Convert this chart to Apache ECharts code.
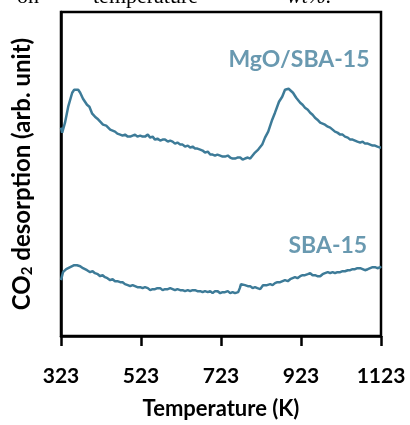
<!DOCTYPE html>
<html>
<head>
<meta charset="utf-8">
<script src="https://cdn.jsdelivr.net/npm/echarts@6/dist/echarts.min.js"></script>
<style>
html, body { margin: 0; padding: 0; background: #fff; }
#main { width: 410px; height: 425px; }
</style>
</head>
<body>
<div id="main"></div>
<script>
// temperature (K) and CO2 signal (arb.)
var mgoTemp = [323, 326, 333, 341, 351, 356, 361, 366, 371, 378, 388, 394, 401, 408, 414, 421, 428, 436, 446, 452, 458, 464, 471, 477, 483, 490, 496, 502, 508, 514, 521, 527, 533, 540, 546, 552, 558, 564, 571, 577, 583, 590, 596, 602, 608, 614, 621, 627, 633, 640, 646, 652, 658, 664, 671, 677, 683, 690, 696, 702, 708, 714, 721, 727, 733, 740, 746, 752, 758, 764, 771, 777, 783, 790, 796, 801, 808, 816, 826, 833, 841, 851, 858, 868, 876, 883, 888, 892, 896, 903, 911, 916, 921, 927, 933, 940, 946, 952, 958, 964, 971, 977, 983, 990, 996, 1002, 1008, 1014, 1021, 1027, 1033, 1040, 1046, 1052, 1058, 1064, 1071, 1077, 1083, 1090, 1096, 1102, 1108, 1114, 1121, 1123];
var mgoSignal = [209, 204, 214, 230, 244, 247, 248, 247, 244, 238, 232, 230, 223, 220, 218, 215, 212, 211, 207, 206, 205, 203, 202, 201, 202, 200, 200, 201, 202, 200, 201, 200, 200, 202, 199, 200, 197, 198, 196, 197, 197, 195, 196, 195, 193, 194, 192, 192, 190, 191, 189, 190, 188, 188, 187, 186, 184, 185, 182, 182, 181, 182, 181, 180, 180, 181, 179, 178, 178, 179, 179, 177, 178, 179, 178, 179, 184, 187, 192, 199, 205, 217, 224, 235, 240, 247, 249, 248, 246, 244, 239, 237, 234, 232, 229, 227, 224, 222, 219, 217, 214, 213, 212, 210, 209, 207, 205, 204, 202, 202, 200, 199, 197, 197, 196, 195, 194, 195, 193, 193, 192, 191, 191, 190, 189, 189];
var sbaTemp = [323, 328, 336, 346, 356, 363, 371, 378, 388, 396, 402, 408, 415, 421, 427, 433, 439, 446, 452, 458, 464, 471, 477, 483, 490, 496, 502, 508, 514, 521, 527, 533, 540, 546, 552, 558, 564, 571, 577, 583, 590, 596, 602, 608, 614, 621, 627, 633, 640, 646, 652, 658, 664, 671, 677, 683, 690, 696, 702, 708, 714, 721, 727, 733, 740, 746, 752, 758, 766, 770, 773, 778, 783, 790, 796, 802, 808, 814, 821, 828, 833, 838, 846, 852, 858, 864, 871, 877, 883, 890, 896, 902, 908, 914, 921, 927, 933, 940, 946, 952, 958, 964, 971, 977, 983, 990, 996, 1002, 1008, 1014, 1021, 1027, 1033, 1040, 1046, 1052, 1058, 1064, 1071, 1077, 1083, 1090, 1096, 1102, 1108, 1114, 1121, 1123];
var sbaSignal = [56, 64, 67, 69, 71, 71, 70, 68, 66, 64, 65, 63, 62, 60, 61, 59, 58, 56, 57, 55, 55, 54, 54, 52, 51, 50, 51, 50, 49, 49, 48, 49, 48, 46, 47, 47, 48, 48, 46, 47, 47, 48, 47, 46, 47, 46, 46, 45, 46, 45, 46, 46, 45, 45, 44, 45, 44, 45, 43, 45, 45, 43, 44, 44, 45, 43, 44, 43, 44, 48, 52, 51, 51, 50, 50, 48, 49, 48, 47, 51, 50, 51, 52, 51, 53, 54, 54, 55, 56, 55, 57, 58, 59, 58, 60, 61, 61, 62, 63, 61, 61, 60, 60, 62, 63, 64, 63, 64, 63, 64, 64, 65, 65, 66, 66, 67, 67, 68, 68, 67, 66, 67, 68, 69, 69, 68, 69, 70];
var tempTicks = [323, 523, 723, 923, 1123];
var curveNames = ['MgO/SBA-15', 'SBA-15'];
var labelTemp = [918, 990];
var labelSignal = [277, 91];

function pairs(xs, ys) {
    var out = [];
    for (var i = 0; i < xs.length; i++) {
        out.push([xs[i], ys[i]]);
    }
    return out;
}

var lineColor = '#3d7b98';
var labelColor = '#437f9c';
var fontFam = 'Lato, "Open Sans", sans-serif';

var myChart = echarts.init(document.getElementById('main'));
var option = {
    backgroundColor: '#fff',
    animation: false,
    graphic: [
        { type: 'text', left: 17, top: -14, style: { text: 'on', font: '22px "Liberation Serif", serif', fill: '#000' } },
        { type: 'text', left: 93, top: -14, style: { text: 'temperature', font: '22px "Liberation Serif", serif', fill: '#000' } },
        { type: 'text', left: 287, top: -14, style: { text: 'wt%.', font: 'italic 22px "Liberation Serif", serif', fill: '#000' } }
    ],
    grid: {
        show: true,
        left: 61,
        right: 29,
        top: 12,
        bottom: 88,
        borderColor: '#000',
        borderWidth: 2.5,
        containLabel: false
    },
    xAxis: {
        type: 'value',
        min: 323,
        max: 1123,
        interval: 200,
        name: 'Temperature (K)',
        nameLocation: 'middle',
        nameGap: 62,
        nameTextStyle: { fontSize: 22, fontWeight: 'bold', color: '#000', fontFamily: fontFam },
        axisLine: { show: true, lineStyle: { color: '#000', width: 2.5 } },
        axisTick: { show: true, inside: false, length: 10, lineStyle: { color: '#000', width: 2.5 } },
        axisLabel: {
            margin: 30,
            fontSize: 21,
            fontWeight: 'bold',
            color: '#000',
            fontFamily: fontFam,
            formatter: function (v) { return tempTicks.indexOf(v) >= 0 ? String(v) : ''; }
        },
        splitLine: { show: false }
    },
    yAxis: {
        type: 'value',
        min: 0,
        max: 325,
        name: '{a|CO}{s|2}{a| desorption (arb. unit)}',
        nameLocation: 'middle',
        nameGap: 26,
        nameTextStyle: {
            rich: {
                a: { fontSize: 24, fontWeight: 'bold', color: '#000', fontFamily: fontFam, lineHeight: 26 },
                s: { fontSize: 15, fontWeight: 'bold', color: '#000', fontFamily: fontFam, lineHeight: 26, verticalAlign: 'bottom' }
            }
        },
        axisLine: { show: true, lineStyle: { color: '#000', width: 2.5 } },
        axisTick: { show: false },
        axisLabel: { show: false },
        splitLine: { show: false }
    },
    series: [{
        name: curveNames[0],
        type: 'line',
        data: pairs(mgoTemp, mgoSignal),
        showSymbol: false,
        lineStyle: { color: lineColor, width: 2.5 }
    }, {
        name: curveNames[1],
        type: 'line',
        data: pairs(sbaTemp, sbaSignal),
        showSymbol: false,
        lineStyle: { color: lineColor, width: 2.5 }
    }, {
        type: 'scatter',
        symbolSize: 0,
        data: pairs(labelTemp, labelSignal),
        label: {
            show: true,
            position: 'inside',
            color: labelColor,
            fontSize: 23,
            fontWeight: 'bold',
            fontFamily: fontFam,
            formatter: function (p) { return curveNames[p.dataIndex]; }
        },
        silent: true
    }]
};
myChart.setOption(option);
</script>
</body>
</html>
